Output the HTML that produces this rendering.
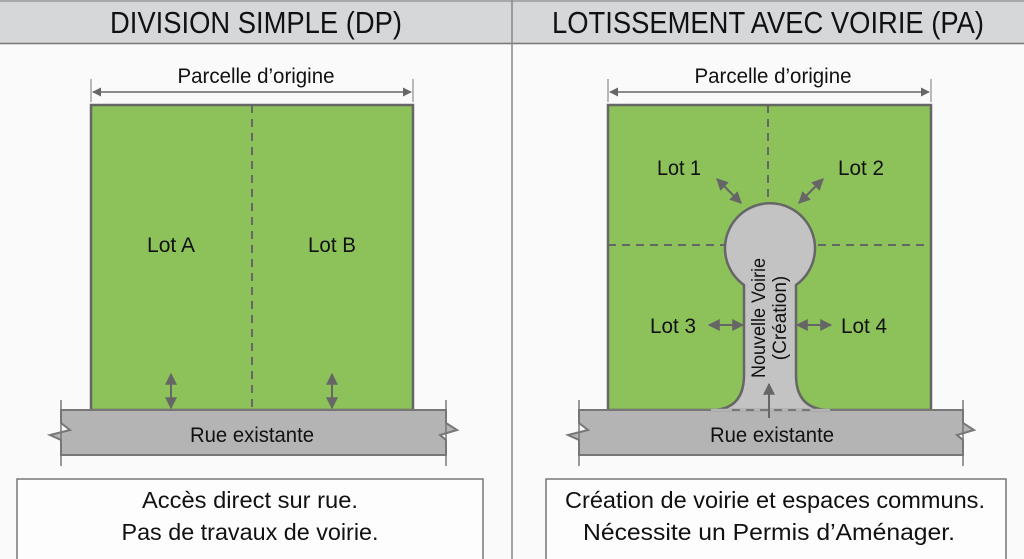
<!DOCTYPE html>
<html><head><meta charset="utf-8"><style>
html,body{margin:0;padding:0;background:#fafafa;}
svg{display:block;font-family:"Liberation Sans",sans-serif;}
</style></head><body>
<svg width="1024" height="559" viewBox="0 0 1024 559" xmlns="http://www.w3.org/2000/svg">
<defs>
<marker id="ah" viewBox="0 0 10 10" refX="9" refY="5" markerWidth="6" markerHeight="6" orient="auto-start-reverse"><path d="M0,0L10,5L0,10z" fill="#666"/></marker>
</defs>
<rect width="1024" height="559" fill="#fafafa"/>
<rect x="0" y="0" width="1024" height="43" fill="#d5d7d9"/>
<line x1="0" y1="43.5" x2="1024" y2="43.5" stroke="#777" stroke-width="1.5"/>
<line x1="0" y1="1" x2="1024" y2="1" stroke="#999" stroke-width="1.5"/>
<line x1="512" y1="0" x2="512" y2="559" stroke="#888" stroke-width="1.5"/>
<text x="256" y="33" text-anchor="middle" font-size="31" textLength="292" lengthAdjust="spacingAndGlyphs" fill="#111">DIVISION SIMPLE (DP)</text>
<text x="768" y="33" text-anchor="middle" font-size="31" textLength="432" lengthAdjust="spacingAndGlyphs" fill="#111">LOTISSEMENT AVEC VOIRIE (PA)</text>

<!-- LEFT -->
<text x="256" y="83" text-anchor="middle" font-size="21" textLength="157" lengthAdjust="spacingAndGlyphs" fill="#111">Parcelle d’origine</text>
<line x1="91" y1="79" x2="91" y2="102" stroke="#777"/><line x1="413" y1="79" x2="413" y2="102" stroke="#777"/>
<line x1="93" y1="92" x2="411" y2="92" stroke="#666" stroke-width="1.5" marker-start="url(#ah)" marker-end="url(#ah)"/>
<rect x="91" y="105" width="322" height="305" fill="#8dc25a" stroke="#666" stroke-width="2.5"/>
<line x1="252" y1="105" x2="252" y2="410" stroke="#666" stroke-width="2" stroke-dasharray="8,6"/>
<text x="171" y="252" text-anchor="middle" font-size="21" textLength="48" lengthAdjust="spacingAndGlyphs" fill="#111">Lot A</text>
<text x="332" y="252" text-anchor="middle" font-size="21" textLength="48" lengthAdjust="spacingAndGlyphs" fill="#111">Lot B</text>
<line x1="171" y1="374" x2="171" y2="408" stroke="#666" stroke-width="2" marker-start="url(#ah)" marker-end="url(#ah)"/>
<line x1="332" y1="374" x2="332" y2="408" stroke="#666" stroke-width="2" marker-start="url(#ah)" marker-end="url(#ah)"/>
<path d="M61,410 H446 V423 L457,430 L440,435 L446,440 V455 H61 V440 L50,435 L70,430 L61,423 Z" fill="#b4b4b4" stroke="#777" stroke-width="2"/>
<line x1="61" y1="400" x2="61" y2="466" stroke="#777" stroke-width="1.5"/><line x1="446" y1="400" x2="446" y2="466" stroke="#777" stroke-width="1.5"/>
<text x="252" y="442" text-anchor="middle" font-size="21" textLength="124" lengthAdjust="spacingAndGlyphs" fill="#111">Rue existante</text>
<rect x="17" y="479" width="466" height="82" fill="#fdfdfd" stroke="#777" stroke-width="1.5"/>
<text x="250" y="508" text-anchor="middle" font-size="23" textLength="216" lengthAdjust="spacingAndGlyphs" fill="#111">Accès direct sur rue.</text>
<text x="250" y="540" text-anchor="middle" font-size="23" textLength="257" lengthAdjust="spacingAndGlyphs" fill="#111">Pas de travaux de voirie.</text>

<!-- RIGHT -->
<text x="773" y="83" text-anchor="middle" font-size="21" textLength="157" lengthAdjust="spacingAndGlyphs" fill="#111">Parcelle d’origine</text>
<line x1="608" y1="79" x2="608" y2="102" stroke="#777"/><line x1="931" y1="79" x2="931" y2="102" stroke="#777"/>
<line x1="610" y1="92" x2="929" y2="92" stroke="#666" stroke-width="1.5" marker-start="url(#ah)" marker-end="url(#ah)"/>
<rect x="608" y="105" width="323" height="305" fill="#8dc25a" stroke="#666" stroke-width="2.5"/>
<line x1="768" y1="105" x2="768" y2="198" stroke="#666" stroke-width="2" stroke-dasharray="8,6"/>
<line x1="608" y1="245" x2="931" y2="245" stroke="#666" stroke-width="2" stroke-dasharray="8,6"/>
<path d="M579,410 H963 V423 L974,430 L957,435 L963,440 V455 H579 V440 L568,435 L588,430 L579,423 Z" fill="#b4b4b4" stroke="#777" stroke-width="2"/>
<line x1="579" y1="400" x2="579" y2="466" stroke="#777" stroke-width="1.5"/><line x1="963" y1="400" x2="963" y2="466" stroke="#777" stroke-width="1.5"/>
<path d="M711,410 Q744,410 744,375 V285 A45,45 0 1 1 796,285 V375 Q796,410 830,410 Z" fill="#c3c3c3" stroke="#666" stroke-width="2.5"/>
<line x1="711" y1="410" x2="830" y2="410" stroke="#b4b4b4" stroke-width="2.5"/>
<line x1="732" y1="410" x2="810" y2="410" stroke="#777" stroke-width="2" stroke-dasharray="8,6"/>
<line x1="769" y1="418" x2="769" y2="384" stroke="#666" stroke-width="2" marker-end="url(#ah)"/>
<text transform="translate(770,318) rotate(-90)" text-anchor="middle" font-size="19" fill="#111"><tspan x="0" y="-5" textLength="120" lengthAdjust="spacingAndGlyphs">Nouvelle Voirie</tspan><tspan x="0" y="16">(Création)</tspan></text>
<text x="679" y="175" text-anchor="middle" font-size="21" textLength="44" lengthAdjust="spacingAndGlyphs" fill="#111">Lot 1</text>
<text x="861" y="175" text-anchor="middle" font-size="21" textLength="46" lengthAdjust="spacingAndGlyphs" fill="#111">Lot 2</text>
<text x="673" y="333" text-anchor="middle" font-size="21" textLength="46" lengthAdjust="spacingAndGlyphs" fill="#111">Lot 3</text>
<text x="864" y="333" text-anchor="middle" font-size="21" textLength="46" lengthAdjust="spacingAndGlyphs" fill="#111">Lot 4</text>
<line x1="717" y1="179" x2="741" y2="203" stroke="#666" stroke-width="2" marker-start="url(#ah)" marker-end="url(#ah)"/>
<line x1="823" y1="179" x2="799" y2="203" stroke="#666" stroke-width="2" marker-start="url(#ah)" marker-end="url(#ah)"/>
<line x1="709" y1="325" x2="743" y2="325" stroke="#666" stroke-width="2" marker-start="url(#ah)" marker-end="url(#ah)"/>
<line x1="797" y1="325" x2="831" y2="325" stroke="#666" stroke-width="2" marker-start="url(#ah)" marker-end="url(#ah)"/>
<text x="772" y="442" text-anchor="middle" font-size="21" textLength="124" lengthAdjust="spacingAndGlyphs" fill="#111">Rue existante</text>
<rect x="546" y="479" width="460" height="82" fill="#fdfdfd" stroke="#777" stroke-width="1.5"/>
<text x="775" y="508" text-anchor="middle" font-size="23" textLength="420" lengthAdjust="spacingAndGlyphs" fill="#111">Création de voirie et espaces communs.</text>
<text x="769" y="540" text-anchor="middle" font-size="23" textLength="372" lengthAdjust="spacingAndGlyphs" fill="#111">Nécessite un Permis d’Aménager.</text>
</svg>
</body></html>
